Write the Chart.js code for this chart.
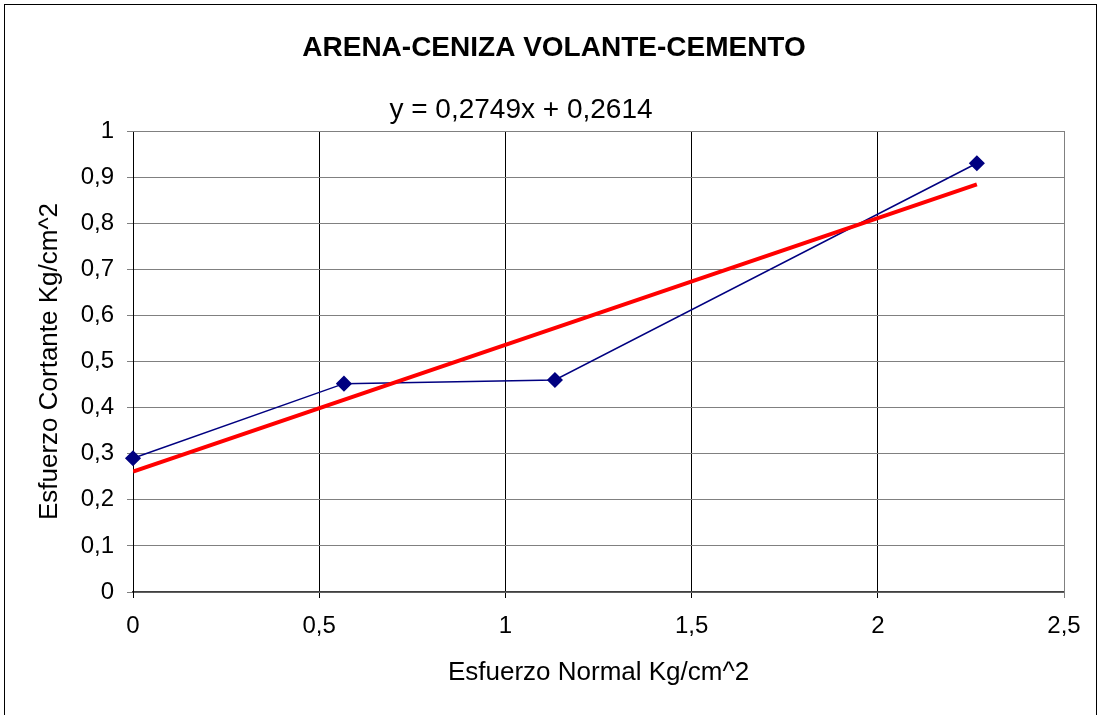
<!DOCTYPE html>
<html>
<head>
<meta charset="utf-8">
<script src="https://cdn.jsdelivr.net/npm/chart.js@4"></script>
<style>
  body { margin: 0; background: #fff; }
  #wrap { width: 1101px; height: 715px; }
</style>
</head>
<body>
<div id="wrap"><canvas id="chart" width="1101" height="715"></canvas></div>
<script>
// data
const esfuerzoNormal = [0, 0.5665, 1.133, 2.266];
const esfuerzoCortante = [0.29, 0.452, 0.46, 0.93];
const trendSlope = 0.2749;
const trendIntercept = 0.2614;
const xTickLabels = ['0', '0,5', '1', '1,5', '2', '2,5'];
const yTickLabels = ['0', '0,1', '0,2', '0,3', '0,4', '0,5', '0,6', '0,7', '0,8', '0,9', '1'];
const chartTitle = 'ARENA-CENIZA VOLANTE-CEMENTO';
const equationText = 'y = 0,2749x + 0,2614';

const FONT = '"Liberation Sans", Arial, sans-serif';

const measured = esfuerzoNormal.map((x, i) => ({ x: x, y: esfuerzoCortante[i] }));
const xFirst = esfuerzoNormal[0];
const xLast = esfuerzoNormal[esfuerzoNormal.length - 1];
const trend = [
    { x: xFirst, y: trendSlope * xFirst + trendIntercept },
    { x: xLast, y: trendSlope * xLast + trendIntercept }
];

// outer frame, plot border and the two text lines on top
const decorations = {
    id: 'decorations',
    beforeDatasetsDraw(chart) {
        const { ctx, chartArea } = chart;
        ctx.save();
        ctx.strokeStyle = '#808080';
        ctx.lineWidth = 1;
        ctx.beginPath();
        ctx.moveTo(chartArea.left, chartArea.top + 0.5);
        ctx.lineTo(chartArea.right + 0.5, chartArea.top + 0.5);
        ctx.lineTo(chartArea.right + 0.5, chartArea.bottom);
        ctx.stroke();
        ctx.restore();
    },
    afterDraw(chart) {
        const { ctx } = chart;
        ctx.save();
        ctx.strokeStyle = '#000';
        ctx.lineWidth = 1;
        ctx.strokeRect(4.5, 4.5, 1092, 800);

        ctx.fillStyle = '#000';
        ctx.textAlign = 'center';
        ctx.textBaseline = 'middle';
        ctx.font = 'bold 28px ' + FONT;
        ctx.fillText(chartTitle, 554, 48);
        ctx.font = '28px ' + FONT;
        ctx.fillText(equationText, 521, 110);
        ctx.restore();
    }
};

const ctx = document.getElementById('chart').getContext('2d');
new Chart(ctx, {
    type: 'scatter',
    data: {
        datasets: [
            {
                label: 'Tendencia',
                data: trend,
                showLine: true,
                borderColor: '#ff0000',
                borderWidth: 4,
                pointRadius: 0,
                order: 0
            },
            {
                label: 'Esfuerzo',
                data: measured,
                showLine: true,
                clip: false,
                borderColor: '#000080',
                borderWidth: 1.5,
                backgroundColor: '#000080',
                pointStyle: 'rectRot',
                pointRadius: 7,
                pointBorderColor: '#000080',
                order: 1
            }
        ]
    },
    options: {
        responsive: false,
        animation: false,
        layout: { padding: { top: 131, right: 37, bottom: 0, left: 0 } },
        plugins: {
            legend: { display: false },
            tooltip: { enabled: false }
        },
        scales: {
            x: {
                type: 'linear',
                min: 0,
                max: 2.5,
                afterFit: scale => { scale.height = 123; },
                ticks: {
                    stepSize: 0.5,
                    padding: 14,
                    color: '#000',
                    font: { family: FONT, size: 24 },
                    callback: (v, i) => xTickLabels[i]
                },
                grid: {
                    color: c => (c.index === xTickLabels.length - 1 ? '#808080' : '#000'),
                    lineWidth: 1,
                    tickLength: 6
                },
                border: { color: '#404040', width: 1.5 },
                title: {
                    display: true,
                    text: 'Esfuerzo Normal Kg/cm^2',
                    color: '#000',
                    font: { family: FONT, size: 26 },
                    padding: { top: 0, bottom: 27 }
                }
            },
            y: {
                type: 'linear',
                min: 0,
                max: 1,
                afterFit: scale => { scale.width = 133; },
                ticks: {
                    stepSize: 0.1,
                    padding: 13,
                    color: '#000',
                    font: { family: FONT, size: 24 },
                    callback: (v, i) => yTickLabels[i]
                },
                grid: {
                    color: '#808080',
                    lineWidth: 1,
                    tickLength: 6
                },
                border: { color: '#000', width: 1 },
                title: {
                    display: true,
                    text: 'Esfuerzo Cortante Kg/cm^2',
                    color: '#000',
                    font: { family: FONT, size: 26 },
                    padding: { top: 34, bottom: 0 }
                }
            }
        }
    },
    plugins: [decorations]
});
</script>
</body>
</html>
